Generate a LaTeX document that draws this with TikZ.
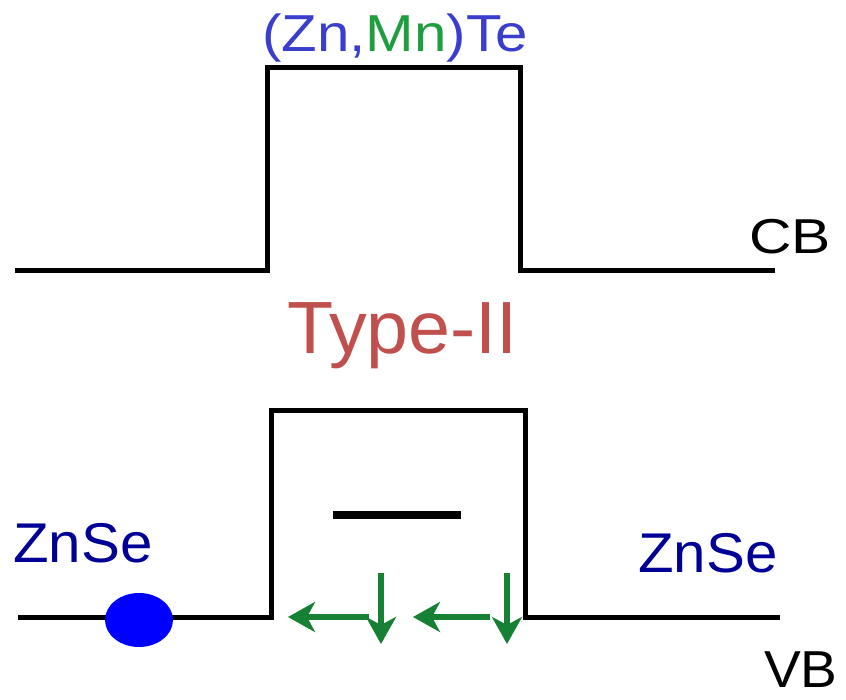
\documentclass[tikz,border=0pt]{standalone}
\usepackage{fontspec}
\setmainfont{Liberation Sans}
\usetikzlibrary{arrows.meta}
\definecolor{ttblue}{RGB}{58,62,205}
\definecolor{mngreen}{RGB}{30,158,62}
\definecolor{znblue}{RGB}{0,0,150}
\definecolor{typered}{RGB}{192,80,77}
\definecolor{arrgreen}{RGB}{22,128,52}
\begin{document}
\begin{tikzpicture}[x=1pt,y=-1pt,
  band/.style={line width=5pt,line join=miter},
  garrow/.style={draw=arrgreen,line width=6pt,-{Stealth[length=27pt,width=30pt,inset=8pt]}},
  lbl/.style={inner sep=0pt,anchor=base west,text depth=0pt}]
\useasboundingbox (0,0) rectangle (846,700);
% conduction band
\draw[band] (15,271) -- (267,271) -- (267,68) -- (520,68) -- (520,271) -- (775,271);
% valence band
\draw[band] (18,617) -- (271,617) -- (271,411) -- (525,411) -- (525,617) -- (780,617);
% bound level
\draw[line width=8pt] (333,515) -- (461,515);
% hole
\fill[blue] (139,620) ellipse [x radius=34, y radius=27];
% arrows
\coordinate (a1s) at (369,617); \coordinate (a1e) at (288,617);
\coordinate (d1s) at (381,573); \coordinate (d1e) at (381,644);
\coordinate (a2s) at (490,617); \coordinate (a2e) at (413,617);
\coordinate (d2s) at (507,573); \coordinate (d2e) at (507,644);
\draw[garrow] (a1s) -- (a1e);
\draw[garrow] (d1s) -- (d1e);
\draw[garrow] (a2s) -- (a2e);
\draw[garrow] (d2s) -- (d2e);
% labels
\node[lbl,xscale=1.12,font=\fontsize{52}{52}\selectfont] (mat) at (262,52) {\textcolor{ttblue}{(Zn,}\textcolor{mngreen}{Mn}\textcolor{ttblue}{)Te}};
\node[lbl,xscale=1.2,font=\fontsize{49}{49}\selectfont] (cb) at (749,254) {CB};
\node[lbl,text=typered,xscale=1.02,font=\fontsize{74}{74}\selectfont] (type) at (287,354) {Type-II};
\node[lbl,text=znblue,xscale=1.04,font=\fontsize{56}{56}\selectfont] (zl) at (13,562) {ZnSe};
\node[lbl,text=znblue,xscale=1.04,font=\fontsize{56}{56}\selectfont] (zr) at (638,572) {ZnSe};
\node[lbl,xscale=1.06,font=\fontsize{52}{52}\selectfont] (vb) at (764,687) {VB};
\end{tikzpicture}
\end{document}
